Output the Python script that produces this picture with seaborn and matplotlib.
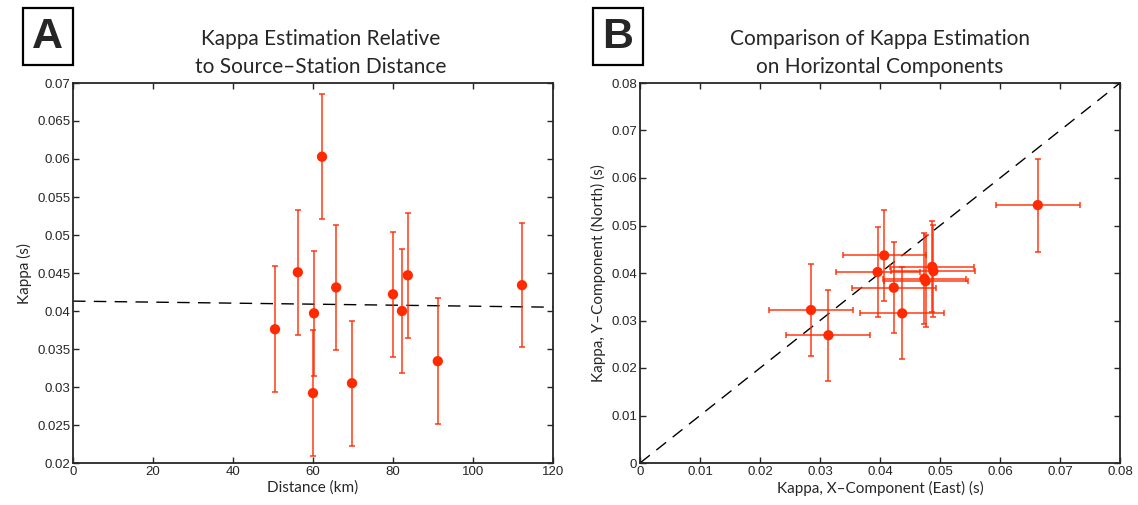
import numpy as np, pandas as pd
import matplotlib
matplotlib.use("Agg")
import matplotlib.pyplot as plt
from matplotlib.patches import Rectangle
import seaborn as sns

# panel A: kappa vs distance
distance_km = [50.5, 56.2, 60.25, 60.0, 62.25, 65.8, 69.75, 80.0, 82.25, 83.7, 91.2, 112.25]
kappa = [0.0376, 0.0451, 0.0397, 0.0292, 0.0603, 0.0431, 0.0305, 0.0422, 0.0400, 0.0447, 0.0334, 0.0434]
kappa_err = [0.0083, 0.0082, 0.0082, 0.0083, 0.0082, 0.0082, 0.0082, 0.0082, 0.0082, 0.0082, 0.0083, 0.0082]
fit_x = [0, 120]
fit_y = [0.0413, 0.0405]

# panel B: X (east) vs Y (north) component
kappa_east = [0.0285, 0.0314, 0.0396, 0.0407, 0.0423, 0.0437, 0.0476, 0.0474, 0.0487, 0.0489, 0.0663]
kappa_north = [0.0322, 0.0269, 0.0402, 0.0437, 0.0369, 0.0315, 0.0383, 0.0388, 0.0413, 0.0404, 0.0543]
east_err = [0.0070, 0.0070, 0.0070, 0.0069, 0.0070, 0.0070, 0.0070, 0.0069, 0.0070, 0.0070, 0.0070]
north_err = [0.0096, 0.0096, 0.0095, 0.0096, 0.0096, 0.0097, 0.0097, 0.0096, 0.0096, 0.0097, 0.0098]
one_to_one = [0, 0.08]

dfa = pd.DataFrame({"dist": distance_km, "kappa": kappa, "err": kappa_err})
dfb = pd.DataFrame({"kx": kappa_east, "ky": kappa_north, "ex": east_err, "ey": north_err})

sns.set_style("ticks")
plt.rcParams["font.family"] = ["Liberation Sans", "DejaVu Sans"]
LBL = ["Lato", "DejaVu Sans"]
RED = "#ff2a00"

fig = plt.figure(figsize=(11.38, 5.05), dpi=100)
axA = fig.add_axes([73/1138, 1-463/505, 480/1138, 380/505])
axB = fig.add_axes([640/1138, 1-463/505, 480/1138, 380/505])

# --- A
axA.plot(fit_x, fit_y, ls=(0, (9, 6)), color="black", lw=1.0, zorder=1)
axA.errorbar(dfa["dist"], dfa["kappa"], yerr=dfa["err"], fmt="none", ecolor=RED,
             elinewidth=1.2, capsize=2.5, capthick=1.2, alpha=0.85, zorder=2)
sns.scatterplot(data=dfa, x="dist", y="kappa", ax=axA, color=RED, s=55,
                edgecolor="none", zorder=3, legend=False)
axA.set_xlim(0, 120)
axA.set_ylim(0.02, 0.07)
axA.set_xticks(np.arange(0, 121, 20))
axA.set_yticks(np.arange(0.02, 0.0701, 0.005))
axA.set_yticklabels(["0.02", "0.025", "0.03", "0.035", "0.04", "0.045", "0.05",
                     "0.055", "0.06", "0.065", "0.07"])
axA.set_xlabel("Distance (km)", family=LBL, fontsize=11, labelpad=2)
axA.set_ylabel("Kappa (s)", family=LBL, fontsize=11, labelpad=4)
axA.text(0.515, 1.015, "Kappa Estimation Relative\nto Source\u2013Station Distance",
         transform=axA.transAxes, ha="center", va="bottom", family=LBL,
         fontsize=15, linespacing=1.5)

# --- B
axB.plot(one_to_one, one_to_one, ls=(0, (9, 6)), color="black", lw=1.0, zorder=1)
axB.errorbar(dfb["kx"], dfb["ky"], xerr=dfb["ex"], yerr=dfb["ey"], fmt="none",
             ecolor=RED, elinewidth=1.2, capsize=2.5, capthick=1.2, alpha=0.85, zorder=2)
sns.scatterplot(data=dfb, x="kx", y="ky", ax=axB, color=RED, s=55,
                edgecolor="none", zorder=3, legend=False)
axB.set_xlim(0, 0.08)
axB.set_ylim(0, 0.08)
ticks = np.arange(0, 0.0801, 0.01)
labels = ["0"] + [f"{t:.2f}" for t in ticks[1:]]
axB.set_xticks(ticks)
axB.set_xticklabels(labels)
axB.set_yticks(ticks)
axB.set_yticklabels(labels)
axB.set_xlabel("Kappa, X\u2013Component (East) (s)", family=LBL, fontsize=11, labelpad=2)
axB.set_ylabel("Kappa, Y\u2013Component (North) (s)", family=LBL, fontsize=11, labelpad=4)
axB.text(0.5, 1.015, "Comparison of Kappa Estimation\non Horizontal Components",
         transform=axB.transAxes, ha="center", va="bottom", family=LBL,
         fontsize=15, linespacing=1.5)

for ax in (axA, axB):
    for s in ax.spines.values():
        s.set_visible(True)
        s.set_linewidth(1.3)
    ax.tick_params(direction="in", length=4, width=1, top=True, right=True,
                   labelsize=9.5, pad=2)

# boxed panel letters
for x0, letter in ((22.7, "A"), (592.7, "B")):
    fig.patches.append(Rectangle((x0/1138, 1-65/505), 50/1138, 57/505,
                                 transform=fig.transFigure, fill=False,
                                 edgecolor="black", lw=1.6))
    fig.text((x0+25)/1138, 1-36.5/505, letter, ha="center", va="center",
             fontsize=31, fontweight="bold", family=["Liberation Sans", "DejaVu Sans"])

fig.savefig("out.png", dpi=100)
